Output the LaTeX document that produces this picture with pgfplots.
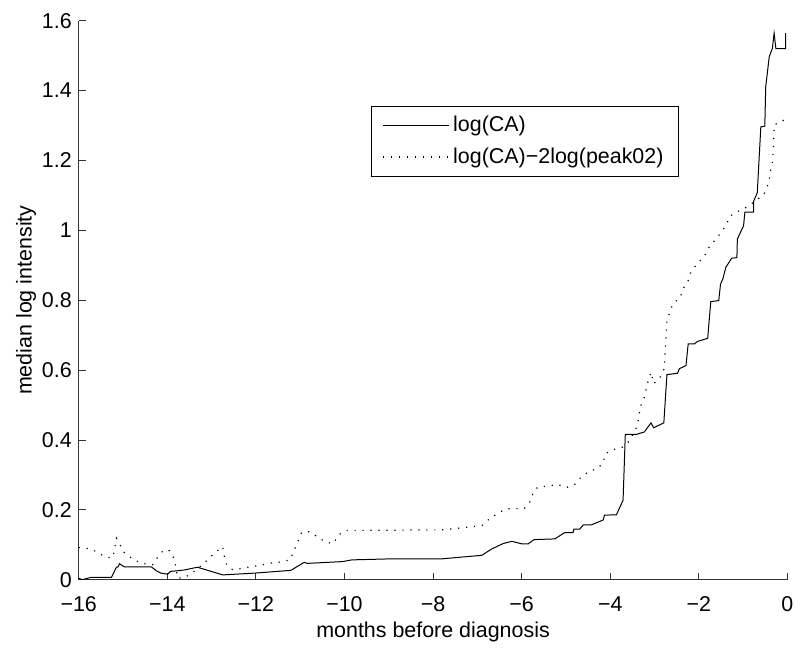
\documentclass[border=0pt]{standalone}
\usepackage{fontspec}
\setmainfont{Liberation Sans}
\usepackage{pgfplots}
\pgfplotsset{compat=1.18}
\newcommand{\lblfont}{\fontsize{10.75}{13}\selectfont}
\begin{document}
\begin{tikzpicture}
\begin{axis}[
    name=ax,
    scale only axis,
    width=355.5pt, height=280.5pt,
    xmin=-16, xmax=0, ymin=0, ymax=1.6,
    axis lines*=left,
    axis line style={line width=0.5pt, black!80},
    tick align=inside,
    major tick length=3.5pt,
    tick style={line width=0.5pt, black!80},
    xtick={-16,-14,...,0},
    xticklabels={−16,−14,−12,−10,−8,−6,−4,−2,0},
    ytick={0,0.2,0.4,0.6,0.8,1,1.2,1.4,1.6},
    yticklabels={0,0.2,0.4,0.6,0.8,1,1.2,1.4,1.6},
    ticklabel style={font=\lblfont},
    xticklabel style={yshift=-5pt},
    xlabel={months before diagnosis},
    ylabel={median log intensity},
    label style={font=\lblfont},
    xlabel style={yshift=2pt},
    ylabel style={yshift=-4pt},
    legend style={at={(0.412,0.848)}, anchor=north west, draw=black,
        line width=0.6pt, font=\lblfont, inner xsep=5.5pt, inner ysep=3pt,
        cells={anchor=west}, row sep=2.5pt},
    legend image code/.code={\draw[#1] (1.5pt,0pt) -- (34.5pt,0pt);},
]
\addplot[black, line width=0.5pt] coordinates {
(-16,0.005) (-15.93,0.0) (-15.72,0.007) (-15.26,0.007) (-15.15,0.036) (-15.11,0.037)
(-15.08,0.046) (-14.97,0.037) (-14.36,0.037) (-14.25,0.026) (-14.14,0.019) (-13.99,0.016)
(-13.93,0.024) (-13.77,0.026) (-13.62,0.028) (-13.32,0.036) (-12.75,0.014) (-12.04,0.019)
(-11.21,0.027) (-10.91,0.05) (-10.84,0.047) (-10.05,0.052) (-9.83,0.057) (-8.93,0.06)
(-7.8,0.06) (-6.9,0.07) (-6.68,0.088) (-6.41,0.104) (-6.22,0.11) (-6.0,0.103)
(-5.85,0.103) (-5.72,0.115) (-5.25,0.117) (-5.03,0.135) (-4.84,0.135) (-4.82,0.145)
(-4.69,0.145) (-4.61,0.157) (-4.43,0.157) (-4.16,0.171) (-4.13,0.185) (-3.86,0.186)
(-3.71,0.228) (-3.66,0.416) (-3.41,0.416) (-3.23,0.423) (-3.08,0.449) (-3.02,0.435)
(-2.79,0.449) (-2.72,0.587) (-2.48,0.591) (-2.44,0.604) (-2.29,0.613) (-2.24,0.675)
(-2.1,0.675) (-2.03,0.682) (-1.8,0.691) (-1.73,0.796) (-1.55,0.799) (-1.51,0.846)
(-1.46,0.86) (-1.39,0.894) (-1.26,0.92) (-1.14,0.922) (-1.13,0.975) (-0.99,1.013)
(-0.96,1.052) (-0.76,1.052) (-0.76,1.084) (-0.68,1.108) (-0.6,1.296) (-0.51,1.298)
(-0.49,1.41) (-0.41,1.497) (-0.34,1.52) (-0.30,1.564) (-0.26,1.52) (-0.04,1.52)
(-0.04,1.564)
};
\addlegendentry{log(CA)}
\addplot[black, line width=0.6pt, dash pattern={on 0.6pt off 3.4pt}] coordinates {
(-16,0.092) (-15.93,0.092) (-15.72,0.088) (-15.57,0.078) (-15.38,0.064) (-15.23,0.064)
(-15.19,0.09) (-15.15,0.119) (-15.08,0.105) (-15.0,0.081) (-14.83,0.064) (-14.64,0.05)
(-14.48,0.045) (-14.33,0.043) (-14.22,0.064) (-14.08,0.086) (-13.95,0.083) (-13.84,0.059)
(-13.8,0.031) (-13.77,0.005) (-13.62,0.005) (-13.43,0.021) (-13.26,0.038) (-13.09,0.057)
(-12.94,0.076) (-12.75,0.095) (-12.72,0.071) (-12.66,0.043) (-12.53,0.029) (-12.3,0.033)
(-12.08,0.038) (-11.88,0.042) (-11.65,0.048) (-11.44,0.051) (-11.23,0.057) (-11.14,0.083)
(-11.05,0.11) (-10.97,0.135) (-10.79,0.138) (-10.59,0.121) (-10.41,0.107) (-10.25,0.104)
(-10.14,0.128) (-9.98,0.141) (-7.76,0.143) (-7.55,0.146) (-7.34,0.149) (-7.13,0.152)
(-6.9,0.155) (-6.74,0.173) (-6.54,0.19) (-6.36,0.203) (-5.94,0.204) (-5.8,0.225)
(-5.74,0.25) (-5.63,0.266) (-5.4,0.268) (-5.19,0.273) (-4.99,0.264) (-4.8,0.273)
(-4.65,0.295) (-4.49,0.309) (-4.28,0.319) (-4.16,0.335) (-4.11,0.361) (-3.92,0.373)
(-3.74,0.378) (-3.57,0.397) (-3.39,0.44) (-3.32,0.495) (-3.24,0.518) (-3.15,0.566)
(-3.08,0.594) (-3.02,0.561) (-2.89,0.575) (-2.78,0.604) (-2.76,0.656) (-2.72,0.742)
(-2.59,0.789) (-2.42,0.808) (-2.36,0.832) (-2.25,0.853) (-2.18,0.88) (-2.03,0.906)
(-1.89,0.922) (-1.76,0.954) (-1.58,0.98) (-1.39,1.013) (-1.29,1.041) (-1.17,1.051)
(-0.94,1.065) (-0.83,1.074) (-0.72,1.084) (-0.53,1.103) (-0.42,1.136) (-0.39,1.165)
(-0.34,1.193) (-0.31,1.25) (-0.3,1.302) (-0.11,1.312) (0,1.33)
};
\addlegendentry{log(CA)−2log(peak02)}
\end{axis}
\path[use as bounding box] ([xshift=-39.5pt,yshift=-31.15pt]ax.south west)
    rectangle ([xshift=5pt,yshift=10.35pt]ax.north east);
\end{tikzpicture}
\end{document}
